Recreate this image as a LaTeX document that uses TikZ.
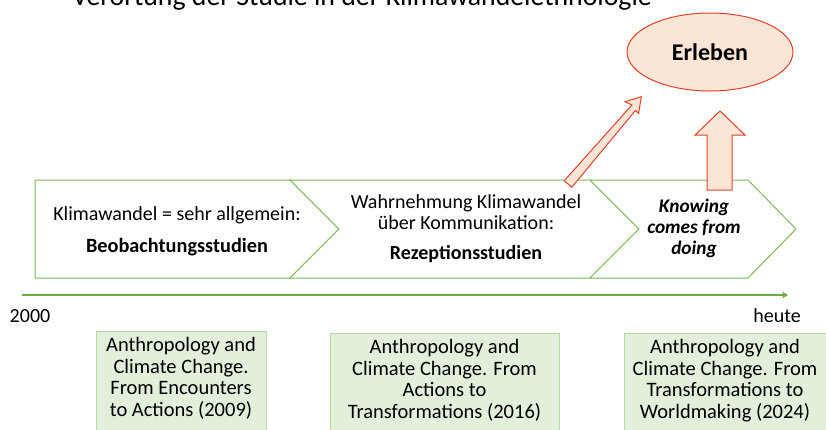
\documentclass[tikz,border=0pt]{standalone}
\usepackage{fontspec}
\setmainfont{Carlito}
\usetikzlibrary{arrows.meta,calc,shapes.geometric}
\definecolor{chevgreen}{HTML}{7DB954}
\definecolor{linegreen}{HTML}{70AD47}
\definecolor{boxfill}{HTML}{E2EFDA}
\definecolor{boxline}{HTML}{B9D9A0}
\definecolor{peach}{HTML}{FBE5D6}
\definecolor{redline}{HTML}{E2412B}
\tikzset{
  chev/.style={draw=chevgreen, line width=1pt, fill=white, line join=miter},
  chevtext/.style={font=\fontsize{20}{21}\selectfont, align=center, inner sep=0pt},
  litbox/.style={draw=boxline, line width=0.8pt, fill=boxfill},
  littext/.style={font=\fontsize{20.5}{21.7}\selectfont, align=center, inner sep=0pt, anchor=north},
  blockarrow/.style={draw=redline, line width=1pt, fill=peach, line join=miter},
  yearlbl/.style={font=\fontsize{20}{22}\selectfont, inner sep=0pt}
}
\begin{document}
\begin{tikzpicture}[x=1pt,y=-1pt]
\useasboundingbox (0,0) rectangle (826,429);
\clip (0,0) rectangle (826,429);
% title (cut off at top)
\node[anchor=base west, inner sep=0pt, font=\fontsize{27.8}{32}\selectfont] (title) at (72,5) {Verortung der Studie in der Klimawandelethnologie};
% chevrons
\draw[chev] (35,180) -- (290,180) -- (339,229) -- (290,278) -- (35,278) -- cycle;
\draw[chev] (290,180) -- (590,180) -- (639,229) -- (590,278) -- (290,278) -- (339,229) -- cycle;
\draw[chev] (590,180) -- (748,180) -- (796,229) -- (748,278) -- (590,278) -- (639,229) -- cycle;
\node[chevtext] (c1a) at (177,215) {Klimawandel = sehr allgemein:};
\node[chevtext, font=\fontsize{20.3}{21}\selectfont\bfseries] (c1b) at (177,247) {Beobachtungsstudien};
\node[chevtext] (c2a) at (466,212.5) {Wahrnehmung Klimawandel\\über Kommunikation:};
\node[chevtext, font=\fontsize{20}{21}\selectfont\bfseries] (c2b) at (466,254) {Rezeptionsstudien};
\node[chevtext, font=\fontsize{19.3}{21}\selectfont\bfseries\itshape] (c3) at (694,228) {Knowing\\comes from\\doing};
% Erleben
\node[draw=redline, line width=1pt, fill=peach, ellipse, minimum width=166pt, minimum height=78pt, inner sep=0pt,
      font=\fontsize{24}{26}\selectfont\bfseries] (erl) at (710,52) {Erleben};
% diagonal arrow
\draw[blockarrow] (564.2,180.8) -- (631.9,105.0) -- (625.0,101.8) -- (641.3,96.7) -- (638.6,113.6) -- (635.5,110.4) -- (571.8,187.2) -- cycle;
% vertical arrow
\draw[blockarrow] (707,190) -- (707,135) -- (695,135) -- (720,111) -- (745,135) -- (732,135) -- (732,190) -- cycle;
% timeline
\coordinate (t0) at (22,295);
\coordinate (t1) at (788,295);
\draw[linegreen, line width=2.8pt, -{Stealth[length=6pt,width=7pt]}] (t0) -- (t1);
\node[yearlbl] (y0) at (30,316) {2000};
\node[yearlbl] (y1) at (777,316) {heute};
% literature boxes
\draw[litbox] (96,331) rectangle (266,440);
\draw[litbox] (330,333) rectangle (559,440);
\draw[litbox] (624,333) rectangle (826,440);
\node[littext] (b1) at (181,337) {Anthropology and\\Climate Change.\\From Encounters\\to Actions (2009)};
\node[littext] (b2) at (444.5,339) {Anthropology and\\Climate Change. From\\Actions to\\Transformations (2016)};
\node[littext] (b3) at (725,339) {Anthropology and\\Climate Change. From\\Transformations to\\Worldmaking (2024)};
\end{tikzpicture}
\end{document}
